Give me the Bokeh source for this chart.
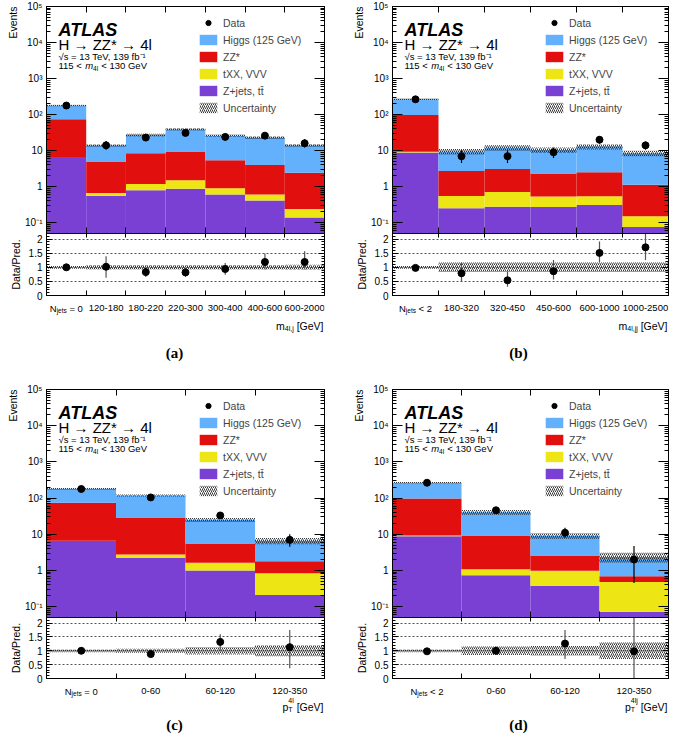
import numpy as np
from bokeh.plotting import figure
from bokeh.models import (Range1d, FixedTicker, LinearAxis, LogAxis, CustomJSTickFormatter,
                          ColumnDataSource, Legend, LegendItem, Label, Title)
from bokeh.layouts import column, row
from bokeh.embed import file_html
from bokeh.resources import INLINE

# ---------------- data ----------------
a_bins = ["N_jets = 0", "120-180", "180-220", "220-300", "300-400", "400-600", "600-2000"]
a_zjets = [6.6, 0.56, 0.79, 0.88, 0.60, 0.41, 0.14]
a_txx = [0.05, 0.11, 0.39, 0.62, 0.30, 0.19, 0.10]
a_zz = [68, 4.3, 7.2, 7.9, 4.5, 3.4, 2.2]
a_higgs = [105, 9.0, 18.6, 29.6, 20.6, 19.0, 11.6]
a_data = [178, 14, 23, 31, 24, 26, 16]
a_data_lo = [165, 10.5, 18.5, 25.5, 19.3, 21, 12.2]
a_data_hi = [191, 18.5, 28, 37, 29, 31.5, 20.5]
a_ratio = [1.0, 1.02, 0.83, 0.82, 0.94, 1.19, 1.19]
a_ratio_lo = [0.93, 0.63, 0.66, 0.66, 0.74, 0.92, 0.92]
a_ratio_hi = [1.07, 1.39, 1.0, 0.96, 1.15, 1.49, 1.57]
a_unc = [0.05, 0.08, 0.08, 0.08, 0.08, 0.08, 0.09]

b_bins = ["N_jets < 2", "180-320", "320-450", "450-600", "600-1000", "1000-2500"]
b_zjets = [8.8, 0.25, 0.275, 0.27, 0.31, 0.076]
b_txx = [0.5, 0.30, 0.435, 0.26, 0.23, 0.074]
b_zz = [88, 2.15, 2.39, 1.77, 1.96, 0.98]
b_higgs = [168, 6.7, 8.9, 8.1, 10.4, 7.27]
b_data = [265, 7, 7, 9, 20, 14]
b_data_lo = [249, 4.5, 4.5, 6.2, 15.7, 10.5]
b_data_hi = [281, 10.2, 10.2, 12.2, 24.8, 18]
b_ratio = [0.98, 0.79, 0.54, 0.86, 1.51, 1.71]
b_ratio_lo = [0.92, 0.49, 0.31, 0.57, 1.18, 1.26]
b_ratio_hi = [1.04, 1.17, 0.85, 1.26, 1.92, 2.19]
b_unc = [0.05, 0.17, 0.17, 0.17, 0.17, 0.17]

c_bins = ["N_jets = 0", "0-60", "60-120", "120-350"]
c_zjets = [6.6, 2.2, 1.0, 0.21]
c_txx = [0.05, 0.55, 0.64, 0.63]
c_zz = [68, 26.2, 3.9, 0.94]
c_higgs = [105, 89, 19.5, 4.8]
c_data = [178, 104, 33, 7]
c_data_lo = [165, 94, 27.5, 4.5]
c_data_hi = [191, 114, 38.8, 10]
c_ratio = [1.0, 0.88, 1.32, 1.13]
c_ratio_lo = [0.93, 0.80, 1.0, 0.37]
c_ratio_hi = [1.07, 0.97, 1.6, 1.75]
c_unc = [0.05, 0.07, 0.13, 0.2]

d_bins = ["N_jets < 2", "0-60", "60-120", "120-350"]
d_zjets = [8.8, 0.74, 0.38, 0.072]
d_txx = [0.5, 0.33, 0.60, 0.41]
d_zz = [88, 8.2, 1.62, 0.21]
d_higgs = [168, 31.3, 6.5, 1.66]
d_data = [265, 46, 11, 2]
d_data_lo = [249, 39.5, 8, 0.45]
d_data_hi = [281, 53, 15, 4.7]
d_ratio = [0.98, 1.0, 1.26, 0.98]
d_ratio_lo = [0.92, 0.86, 0.70, 0.0]
d_ratio_hi = [1.04, 1.15, 1.75, 2.3]
d_unc = [0.05, 0.15, 0.17, 0.3]

# ---------------- style ----------------
FONT = "Liberation Sans"
C_HIGGS = "#63B1FD"
C_ZZ = "#E20F0F"
C_TXX = "#EDE614"
C_ZJ = "#7A3FD3"
HATCH = "#222222"
NB = "\u00a0"

CW = {" ": 278, NB: 278, "-": 333, ",": 278, ".": 278, "<": 584, "=": 584, "[": 278,
      "]": 278, "(": 333, ")": 333, "G": 778, "V": 667, "N": 722, "T": 611, "e": 556,
      "m": 833, "l": 222, "j": 222, "p": 556, "t": 278, "s": 500}


def tw(s, size):
    return sum(CW.get(ch, 556) for ch in s) / 1000.0 * size


def lab(p, text, x, y, size, xu="screen", yu="screen", align="left", baseline="alphabetic",
        style="normal", angle=0.0, font=FONT, x_offset=0, color="black"):
    p.add_layout(Label(text=text, x=x, y=y, x_units=xu, y_units=yu, text_font=font,
                       text_font_size=f"{size}px", text_font_style=style, text_align=align,
                       text_baseline=baseline, angle=angle, x_offset=x_offset,
                       text_color=color))


LOG_FMT = CustomJSTickFormatter(code="""
const e = Math.round(Math.log10(tick));
const m = {"-1": "10\u207b\u00b9", "0": "1", "1": "10", "2": "10\u00b2", "3": "10\u00b3",
           "4": "10\u2074", "5": "10\u2075"};
return m[String(e)] || "";
""")
EMPTY_FMT = CustomJSTickFormatter(code="return '';")


def style_x(ax, centers, edges, tick_in):
    ax.ticker = FixedTicker(ticks=centers, minor_ticks=edges)
    ax.major_tick_in = 0
    ax.major_tick_out = 0
    ax.minor_tick_in = tick_in
    ax.minor_tick_out = 0
    ax.axis_line_color = "black"
    ax.minor_tick_line_color = "black"
    ax.minor_tick_line_width = 1
    ax.formatter = EMPTY_FMT
    ax.major_label_text_font_size = "0px"
    ax.major_label_standoff = 0


def style_y(ax, ticks, minor, tick_in, minor_in, fmt, labels=True):
    ax.ticker = FixedTicker(ticks=ticks, minor_ticks=minor)
    ax.major_tick_in = tick_in
    ax.major_tick_out = 0
    ax.minor_tick_in = minor_in
    ax.minor_tick_out = 0
    ax.axis_line_color = "black"
    ax.major_tick_line_color = "black"
    ax.minor_tick_line_color = "black"
    if labels:
        ax.formatter = fmt
        ax.major_label_text_font = FONT
        ax.major_label_text_font_size = "10px"
        ax.major_label_standoff = 4
        ax.major_label_text_color = "black"
    else:
        ax.formatter = EMPTY_FMT
        ax.major_label_text_font_size = "0px"
        ax.major_label_standoff = 0


def side_title(p, text, align):
    p.add_layout(Title(text=text, align=align, text_font=FONT, text_font_size="10.5px",
                       text_font_style="normal", text_color="black", standoff=8), "left")


LOG_TICKS = [0.1, 1, 10, 100, 1000, 10000, 100000]
LOG_MINOR = [k * 10.0 ** d for d in range(-2, 5) for k in range(2, 10)]
R_TICKS = [0, 0.5, 1, 1.5, 2]
R_MINOR = [round(0.1 * i, 1) for i in range(23)]
RB_BOT = 6  # space below ratio frame for its "0" label


def panel(bins, zj, txx, zz, higgs, data, dlo, dhi, ratio, rlo, rhi, unc, xtitle, caption,
          lb, fw, rb, tb, mh, rh, sh, cap_x, cap_d, title_d):
    n = len(bins)
    centers = [i + 0.5 for i in range(n)]
    edges = list(range(n + 1))
    zj, txx, zz, higgs = map(np.array, (zj, txx, zz, higgs))
    c1 = zj
    c2 = c1 + txx
    c3 = c2 + zz
    c4 = c3 + higgs
    unc_a = np.array(unc)
    src = ColumnDataSource(dict(left=edges[:-1], right=edges[1:], base=np.full(n, 1e-3),
                                c1=c1, c2=c2, c3=c3, c4=c4,
                                blo=c4 * (1 - unc_a), bhi=c4 * (1 + unc_a),
                                x=centers, data=data, dlo=dlo, dhi=dhi,
                                ratio=ratio, rlo=rlo, rhi=rhi,
                                rblo=1 - unc_a, rbhi=1 + unc_a))
    xr = Range1d(0, n)
    p = figure(frame_width=fw, frame_height=mh, x_range=xr, y_range=Range1d(0.05, 1e5),
               y_axis_type="log", output_backend="svg", toolbar_location=None, title=None,
               min_border_left=lb, min_border_right=rb, min_border_top=tb, min_border_bottom=0)
    p.grid.visible = False
    p.outline_line_color = "black"
    p.outline_line_width = 1
    p.background_fill_color = "white"
    p.border_fill_color = "white"
    style_x(p.xaxis[0], centers, edges, 6)
    top_ax = LinearAxis()
    style_x(top_ax, centers, edges, 6)
    p.add_layout(top_ax, "above")
    style_y(p.yaxis[0], LOG_TICKS, LOG_MINOR, 10, 4, LOG_FMT)
    right_ax = LogAxis()
    style_y(right_ax, LOG_TICKS, LOG_MINOR, 10, 4, LOG_FMT, labels=False)
    p.add_layout(right_ax, "right")
    side_title(p, "Events", "right")

    r_zj = p.quad(left="left", right="right", bottom="base", top="c1", source=src,
                  fill_color=C_ZJ, line_color=None)
    r_tx = p.quad(left="left", right="right", bottom="c1", top="c2", source=src,
                  fill_color=C_TXX, line_color=None)
    r_zz = p.quad(left="left", right="right", bottom="c2", top="c3", source=src,
                  fill_color=C_ZZ, line_color=None)
    r_hg = p.quad(left="left", right="right", bottom="c3", top="c4", source=src,
                  fill_color=C_HIGGS, line_color=None)
    r_unc = p.quad(left="left", right="right", bottom="blo", top="bhi", source=src,
                   fill_alpha=0, line_color=None, hatch_pattern="/", hatch_color=HATCH,
                   hatch_scale=4, hatch_weight=0.9)
    p.segment(x0="x", y0="dlo", x1="x", y1="dhi", source=src, line_color="black",
              line_width=1.2)
    r_dat = p.scatter(x="x", y="data", source=src, size=7, color="black")

    legend = Legend(items=[LegendItem(label="Data", renderers=[r_dat]),
                           LegendItem(label="Higgs (125 GeV)", renderers=[r_hg]),
                           LegendItem(label="ZZ*", renderers=[r_zz]),
                           LegendItem(label="tXX, VVV", renderers=[r_tx]),
                           LegendItem(label="Z+jets, tt\u0304", renderers=[r_zj]),
                           LegendItem(label="Uncertainty", renderers=[r_unc])],
                    location=(151, mh - 108), glyph_width=22, glyph_height=13,
                    label_height=13, label_width=20, spacing=4, padding=0, margin=0,
                    label_standoff=4, label_text_font=FONT, label_text_font_size="10.5px",
                    border_line_alpha=0, background_fill_alpha=0)
    p.add_layout(legend)

    lab(p, "ATLAS", 12, mh - 23, 18, style="bold italic")
    lab(p, "H \u2192 ZZ* \u2192 4l", 12, mh - 38, 15)
    lab(p, "\u221as = 13 TeV, 139 fb\u207b\u00b9", 12, mh - 50, 9.5)
    x0 = 12
    t1 = "115" + NB + "<" + NB
    lab(p, t1, x0, mh - 59, 9.5)
    x0 += tw(t1, 9.5)
    lab(p, "m", x0, mh - 59, 9.5, style="italic")
    x0 += tw("m", 9.5)
    lab(p, "4l", x0, mh - 61.5, 6.5)
    x0 += tw("4l", 6.5) + 0.5
    lab(p, NB + "<" + NB + "130 GeV", x0, mh - 59, 9.5)

    # ratio panel
    r = figure(frame_width=fw, frame_height=rh, x_range=xr, y_range=Range1d(0, 2.2),
               output_backend="svg", toolbar_location=None, title=None,
               min_border_left=lb, min_border_right=rb, min_border_top=0,
               min_border_bottom=RB_BOT)
    r.outline_line_color = "black"
    r.outline_line_width = 1
    r.background_fill_color = "white"
    r.border_fill_color = "white"
    r.xgrid.visible = False
    r.ygrid.ticker = FixedTicker(ticks=[0.5, 1, 1.5, 2])
    r.ygrid.grid_line_dash = "2 2"
    r.ygrid.grid_line_color = "#555555"
    r.ygrid.grid_line_width = 1
    style_x(r.xaxis[0], centers, edges, 5)
    r_top = LinearAxis()
    style_x(r_top, centers, edges, 4)
    r.add_layout(r_top, "above")
    style_y(r.yaxis[0], R_TICKS, R_MINOR, 6, 3,
            CustomJSTickFormatter(code="return String(tick);"))
    r_right = LinearAxis()
    style_y(r_right, R_TICKS, R_MINOR, 6, 3, None, labels=False)
    r.add_layout(r_right, "right")
    side_title(r, "Data/Pred.", "center")

    r.quad(left="left", right="right", bottom="rblo", top="rbhi", source=src, fill_alpha=0,
           line_color=None, hatch_pattern="/", hatch_color=HATCH, hatch_scale=4,
           hatch_weight=0.9)
    r.segment(x0="x", y0="rlo", x1="x", y1="rhi", source=src, line_color="#555555",
              line_width=1.2)
    r.scatter(x="x", y="ratio", source=src, size=7, color="black")

    # text strip below the ratio panel (tick labels, axis title, caption)
    sh2 = sh - RB_BOT
    s = figure(frame_width=fw, frame_height=sh2, x_range=xr, y_range=Range1d(0, sh2),
               output_backend="svg", toolbar_location=None, title=None,
               x_axis_location=None, y_axis_location=None,
               min_border_left=lb, min_border_right=rb, min_border_top=0, min_border_bottom=0)
    s.outline_line_color = None
    s.background_fill_color = "white"
    s.border_fill_color = "white"
    s.grid.visible = False

    top = sh2 + RB_BOT  # y of ratio frame bottom in strip coordinates
    tick_base = top - 12.5
    for i, b in enumerate(bins):
        if b.startswith("N_jets"):
            rest = b[len("N_jets"):].replace(" ", NB)
            total = tw("N", 9.5) + tw("jets", 6.5) + tw(rest, 9.5)
            off = -total / 2
            lab(s, "N", centers[i], tick_base, 9.5, xu="data", x_offset=off)
            off += tw("N", 9.5)
            lab(s, "jets", centers[i], tick_base - 2.5, 6.5, xu="data", x_offset=off)
            off += tw("jets", 6.5)
            lab(s, rest, centers[i], tick_base, 9.5, xu="data", x_offset=off)
        else:
            lab(s, b, centers[i], tick_base, 9.5, xu="data", align="center")

    xr_pos = fw - 1
    for group in reversed(xtitle):
        w = max(tw(t, sz) for t, sz, dy in group)
        xr_pos -= w
        for t, sz, dy in group:
            lab(s, t, xr_pos, top - title_d - dy, sz)

    lab(s, caption, cap_x, top - cap_d, 15, align="center", baseline="middle", style="bold",
        font="Liberation Serif")
    return column(p, r, s)


GEV = NB + "[GeV]"
T_A = [[("m", 10.5, 0)], [("4l,j", 7, 2.5)], [(GEV, 10.5, 0)]]
T_B = [[("m", 10.5, 0)], [("4l,jj", 7, 2.5)], [(GEV, 10.5, 0)]]
T_C = [[("p", 10.5, 0)], [("T", 7, 2.5), ("4l", 7, -6)], [(GEV, 10.5, 0)]]
T_D = [[("p", 10.5, 0)], [("T", 7, 2.5), ("4lj", 7, -6)], [(GEV, 10.5, 0)]]

# geometry
L_LB, L_FW, L_RB = 45, 278, 10
R_LB, R_FW, R_RB = 58, 276, 2

pa = panel(a_bins, a_zjets, a_txx, a_zz, a_higgs, a_data, a_data_lo, a_data_hi, a_ratio,
           a_ratio_lo, a_ratio_hi, a_unc, T_A, "(a)", L_LB, L_FW, L_RB, 6, 227, 62, 88,
           128, 57, 30)
pb = panel(b_bins, b_zjets, b_txx, b_zz, b_higgs, b_data, b_data_lo, b_data_hi, b_ratio,
           b_ratio_lo, b_ratio_hi, b_unc, T_B, "(b)", R_LB, R_FW, R_RB, 6, 227, 62, 88,
           126, 57, 30)
pc = panel(c_bins, c_zjets, c_txx, c_zz, c_higgs, c_data, c_data_lo, c_data_hi, c_ratio,
           c_ratio_lo, c_ratio_hi, c_unc, T_C, "(c)", L_LB, L_FW, L_RB, 6, 228, 61, 58,
           128, 46, 28)
pd_ = panel(d_bins, d_zjets, d_txx, d_zz, d_higgs, d_data, d_data_lo, d_data_hi, d_ratio,
            d_ratio_lo, d_ratio_hi, d_unc, T_D, "(d)", R_LB, R_FW, R_RB, 6, 228, 61, 58,
            126, 46, 28)

layout = column(row(pa, pb), row(pc, pd_))
open("out.html", "w").write(file_html(layout, INLINE))
